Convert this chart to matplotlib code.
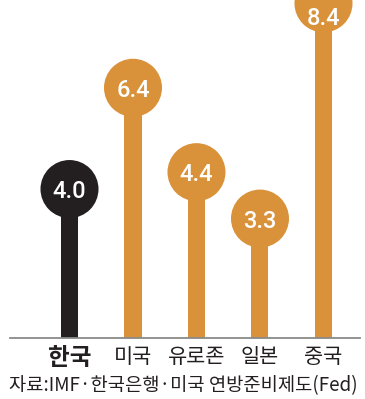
import matplotlib
matplotlib.use("Agg")
import matplotlib.pyplot as plt

categories = ["한국", "미국", "유로존", "일본", "중국"]
values = [4.0, 6.4, 4.4, 3.3, 8.4]
value_labels = ["4.0", "6.4", "4.4", "3.3", "8.4"]
source = "자료:IMF·한국은행·미국 연방준비제도(Fed)"

ORANGE = "#DA923A"
BLACK = "#231F20"
colors = [BLACK, ORANGE, ORANGE, ORANGE, ORANGE]

plt.rcParams['font.family'] = ['Noto Sans CJK KR', 'DejaVu Sans']

W, H = 365, 399
fig = plt.figure(figsize=(W / 100, H / 100), dpi=100)
ax = fig.add_axes([10 / W, (H - 338) / H, 350 / W, 338 / H])

x = list(range(len(categories)))
ymin, ymax = 0.47, 8.48
ax.bar(x, values, width=0.268, color=colors, zorder=2)
ax.scatter(x, values, s=1745, c=colors, zorder=3, clip_on=False, linewidths=0)
for xi, v, lab in zip(x, values, value_labels):
    ax.annotate(lab, (xi, min(v, 8.1)), xytext=(0, -6.5), textcoords="offset points",
                ha="center", va="baseline", color="white", fontweight="medium",
                fontsize=17, family=["Roboto", "DejaVu Sans"], zorder=4)

ax.set_xlim(-0.937, 4.575)
ax.set_ylim(ymin, ymax)
for s in ["top", "right", "left"]:
    ax.spines[s].set_visible(False)
ax.spines["bottom"].set_color("#8A8A8A")
ax.spines["bottom"].set_linewidth(1.3)
ax.set_yticks([])
ax.set_xticks(x)
ax.set_xticklabels(categories)
ax.tick_params(axis="x", length=0, pad=6, labelsize=15, colors="#231F20")
for i, t in enumerate(ax.get_xticklabels()):
    if i == 0:
        t.set_fontweight("bold")
        t.set_fontsize(17)

fig.text(9 / W, 1 - 386 / H, source, ha="left", va="center", fontsize=13.5, color="#231F20")

fig.savefig("out.png", dpi=100)
